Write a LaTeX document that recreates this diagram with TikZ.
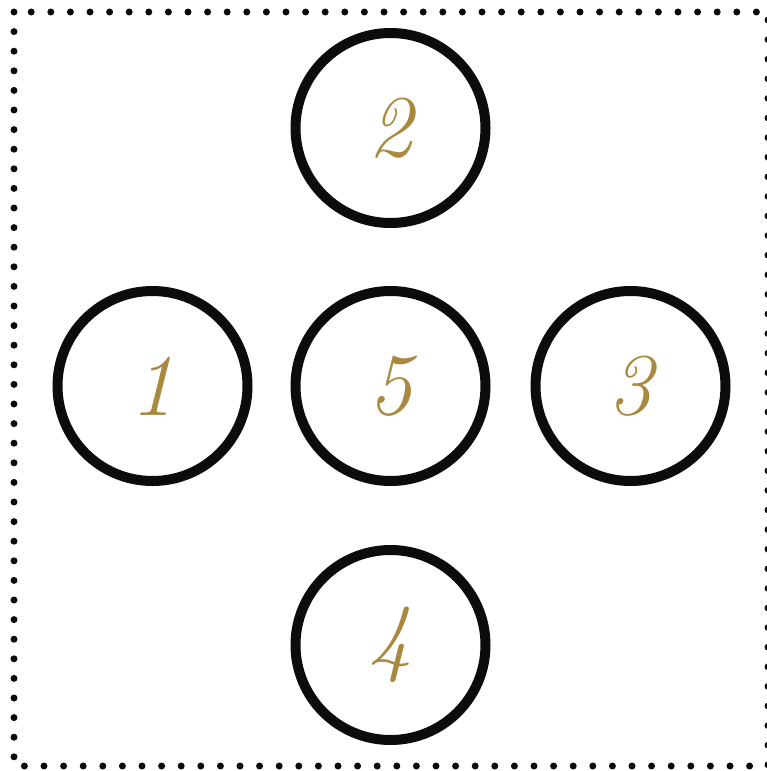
\documentclass[tikz,border=0pt]{standalone}
\usepackage{fontspec}
\usepackage{tikz}
\usetikzlibrary{positioning}
\definecolor{ink}{HTML}{0C0C0C}
\definecolor{gold}{HTML}{A8893F}

\begin{document}
\begin{tikzpicture}[x=1pt,y=1pt,
  seat/.style={draw=ink,circle,line width=10pt,minimum size=190pt,inner sep=0pt,
               text=gold,font=\fontsize{88}{88}\selectfont\itshape},
  frame/.style={draw=ink,line width=7pt,line cap=round,dash pattern=on 0pt off 19.6pt}]
  \useasboundingbox (0,0) rectangle (767,-771);
  \draw[frame] (14,-12) rectangle (768,-766);
  \node[seat] (s5) at (390.5,-386) {5};
  \node[seat,above=58pt of s5] (s2) {2};
  \node[seat,below=59pt of s5] (s4) {4};
  \node[seat,left=38pt of s5] (s1) {1};
  \node[seat,right=40pt of s5] (s3) {3};
\end{tikzpicture}
\end{document}
